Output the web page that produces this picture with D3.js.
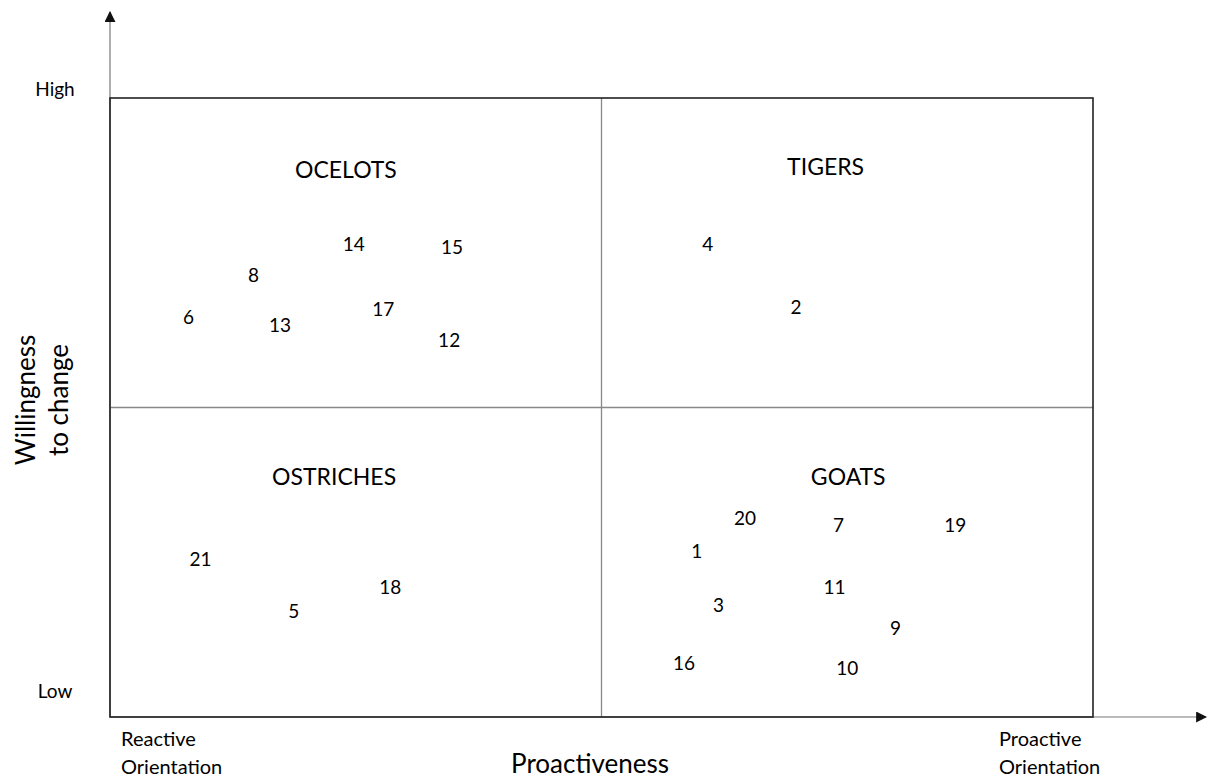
<!DOCTYPE html>
<html>
<head>
<meta charset="utf-8">
<script src="https://cdn.jsdelivr.net/npm/d3@7"></script>
<style>
  body { margin: 0; background: #fff; }
  text { font-family: Lato, "Open Sans", sans-serif; fill: #000; }
</style>
</head>
<body>
<svg id="chart" width="1208" height="778"></svg>
<script>
// respondents: id, proactiveness (0-10), willingness to change (0-10)
var ids = [6, 8, 13, 14, 17, 15, 12, 4, 2, 21, 5, 18, 20, 7, 19, 1, 11, 3, 9, 16, 10];
var proactiveness = [0.80, 1.46, 1.73, 2.48, 2.78, 3.48, 3.45, 6.08, 6.98, 0.92, 1.87, 2.85, 6.46, 7.41, 8.60, 5.97, 7.37, 6.19, 7.99, 5.84, 7.50];
var willingness = [6.45, 7.14, 6.33, 7.63, 6.58, 7.59, 6.09, 7.63, 6.62, 2.54, 1.70, 2.10, 3.21, 3.09, 3.10, 2.68, 2.10, 1.81, 1.44, 0.87, 0.78];

var quadrantNames = ["OCELOTS", "TIGERS", "OSTRICHES", "GOATS"];
var quadrantX = [2.40, 7.28, 2.28, 7.51];
var quadrantY = [8.84, 8.89, 3.88, 3.88];

var yTickLabels = ["Low", "High"];

var svg = d3.select("#chart"),
    plotLeft = 110, plotRight = 1093, plotTop = 98, plotBottom = 717;

var x = d3.scaleLinear().domain([0, 10]).range([plotLeft, plotRight]),
    y = d3.scaleLinear().domain([0, 10]).range([plotBottom, plotTop]);

svg.append("defs").append("marker")
    .attr("id", "arrow")
    .attr("viewBox", "0 0 10 10")
    .attr("refX", 9).attr("refY", 5)
    .attr("markerWidth", 11).attr("markerHeight", 11)
    .attr("markerUnits", "userSpaceOnUse")
    .attr("orient", "auto")
    .append("path")
    .attr("d", "M0,0 L10,5 L0,10 Z")
    .attr("fill", "#111");

// axes with arrows
svg.append("line")
    .attr("x1", x(0)).attr("y1", y(0))
    .attr("x2", x(0)).attr("y2", 12)
    .attr("stroke", "#777").attr("stroke-width", 1.2)
    .attr("marker-end", "url(#arrow)");
svg.append("line")
    .attr("x1", x(0)).attr("y1", y(0))
    .attr("x2", 1206).attr("y2", y(0))
    .attr("stroke", "#777").attr("stroke-width", 1.2)
    .attr("marker-end", "url(#arrow)");

// quadrant dividers
svg.append("line")
    .attr("x1", x(5)).attr("x2", x(5))
    .attr("y1", y(0)).attr("y2", y(10))
    .attr("stroke", "#888").attr("stroke-width", 1.3);
svg.append("line")
    .attr("x1", x(0)).attr("x2", x(10))
    .attr("y1", y(5)).attr("y2", y(5))
    .attr("stroke", "#888").attr("stroke-width", 1.3);

// outer box
svg.append("rect")
    .attr("x", x(0)).attr("y", y(10))
    .attr("width", x(10) - x(0)).attr("height", y(0) - y(10))
    .attr("fill", "none").attr("stroke", "#222").attr("stroke-width", 1.6);

// quadrant titles
svg.selectAll(".quad")
    .data(quadrantNames)
    .enter().append("text")
    .attr("class", "quad")
    .attr("x", function (d, i) { return x(quadrantX[i]); })
    .attr("y", function (d, i) { return y(quadrantY[i]); })
    .attr("dy", "0.35em")
    .attr("text-anchor", "middle")
    .style("font-size", "23px")
    .text(function (d) { return d; });

// point labels
svg.selectAll(".pt")
    .data(ids)
    .enter().append("text")
    .attr("class", "pt")
    .attr("x", function (d, i) { return x(proactiveness[i]); })
    .attr("y", function (d, i) { return y(willingness[i]); })
    .attr("dy", "0.35em")
    .attr("text-anchor", "middle")
    .style("font-size", "19px")
    .text(function (d) { return d; });

// y tick labels
svg.selectAll(".ytick")
    .data(yTickLabels)
    .enter().append("text")
    .attr("class", "ytick")
    .attr("x", 55)
    .attr("y", function (d, i) { return i === 0 ? 691 : 89; })
    .attr("dy", "0.35em")
    .attr("text-anchor", "middle")
    .style("font-size", "19px")
    .text(function (d) { return d; });

// x corner labels
var corner = svg.append("g").style("font-size", "20px");
corner.append("text").attr("x", 121).attr("y", 746).text("Reactive");
corner.append("text").attr("x", 121).attr("y", 774).text("Orientation");
corner.append("text").attr("x", 999).attr("y", 746).text("Proactive");
corner.append("text").attr("x", 999).attr("y", 774).text("Orientation");

// axis titles
svg.append("text")
    .attr("x", 590).attr("y", 773)
    .attr("text-anchor", "middle")
    .style("font-size", "26px")
    .text("Proactiveness");

var yTitle = svg.append("text")
    .attr("transform", "translate(0,400) rotate(-90)")
    .attr("text-anchor", "middle")
    .style("font-size", "26px");
yTitle.append("tspan").attr("x", 0).attr("y", 35).text("Willingness");
yTitle.append("tspan").attr("x", 0).attr("y", 68).text("to change");
</script>
</body>
</html>
